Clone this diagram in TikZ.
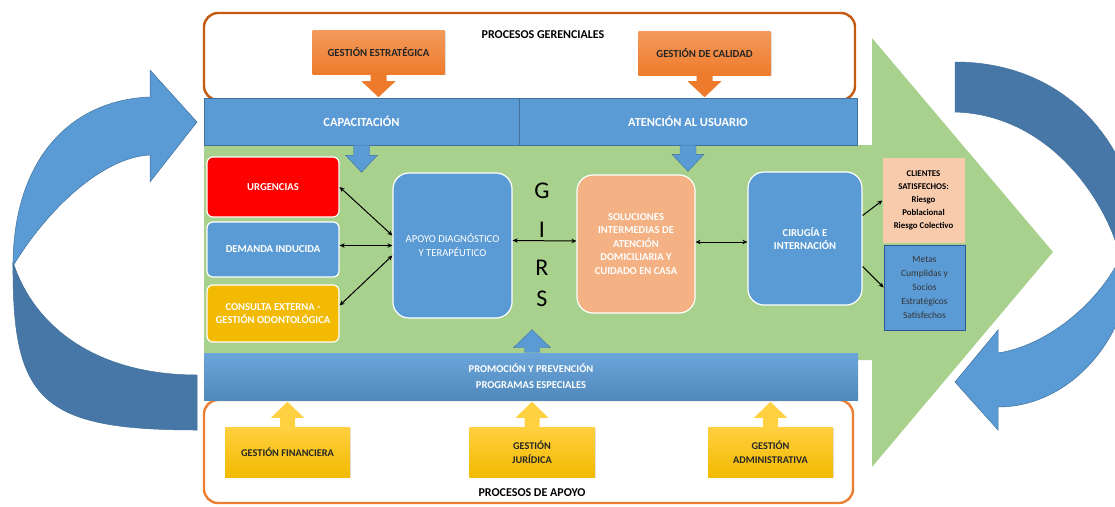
\documentclass[tikz,border=0pt]{standalone}
\usepackage{fontspec}
\setmainfont{Carlito}
\usetikzlibrary{arrows.meta,shadows}
\definecolor{verde}{HTML}{A9D18E}
\definecolor{azul}{HTML}{5B9BD5}
\definecolor{azulosc}{HTML}{4677A6}
\definecolor{azulbor}{HTML}{41719C}
\definecolor{nartop}{HTML}{F39A5C}
\definecolor{narbot}{HTML}{EE7B2C}
\definecolor{narbor}{HTML}{C55A11}
\definecolor{narclaro}{HTML}{ED7D31}
\definecolor{amatop}{HTML}{FFD040}
\definecolor{amabot}{HTML}{F2BA00}
\definecolor{salmon}{HTML}{F4B183}
\definecolor{piel}{HTML}{F8CBAD}
\definecolor{metasbor}{HTML}{2F5597}

\begin{document}
\begin{tikzpicture}[x=1pt,y=-1pt,
		proceso/.style={draw, line width=2.4pt, rounded corners=14, fill=white},
		barra/.style={fill=azul, draw=azulbor, line width=0.6pt, text=white, font=\fontsize{12.4}{14}\selectfont\bfseries, align=center},
		gestion/.style={top color=nartop, bottom color=narbot, minimum width=132, minimum height=44, font=\fontsize{10.8}{12}\selectfont\bfseries, text=black!85, drop shadow={opacity=0.25, shadow xshift=1pt, shadow yshift=-1pt}},
		apoyo/.style={top color=amatop, bottom color=amabot, minimum width=125, minimum height=50, align=center, font=\fontsize{10.3}{14}\selectfont\bfseries, text=black!85, drop shadow={opacity=0.25, shadow xshift=1pt, shadow yshift=-1pt}},
		servicio/.style={draw=white, line width=1.2pt, rounded corners=6, minimum width=132, text=white, align=center, font=\fontsize{10.6}{12.5}\selectfont\bfseries},
		unidad/.style={draw=white, line width=1.2pt, rounded corners=16, text=white, align=center, font=\fontsize{10.6}{13.5}\selectfont\bfseries},
		titulo/.style={font=\fontsize{12}{14}\selectfont\bfseries},
		letra/.style={font=\fontsize{24}{24}\selectfont},
		doble/.style={{Stealth[length=5pt,width=4.5pt]}-{Stealth[length=5pt,width=4.5pt]}, line width=1pt},
		simple/.style={-{Stealth[length=5pt,width=4.5pt]}, line width=1pt}]
	\useasboundingbox (0,0) rectangle (1115,506);
	\clip (0,0) rectangle (1115,506);
	\filldraw[fill=azulosc, draw=azulbor, line width=0.5pt] (13,262) .. controls (12,400) and (40,430) .. (197,430) -- (197,375) .. controls (100,375) and (35,330) .. (13,262) -- cycle;
	\filldraw[fill=azul, draw=azulbor, line width=0.5pt] (150,97) -- (150,70) -- (197,122) -- (150,182) -- (150,155) .. controls (105,157) and (50,205) .. (13,266) .. controls (13,160) and (70,100) .. (150,97) -- cycle;
	\filldraw[fill=azulosc, draw=azulbor, line width=0.5pt] (955,62) .. controls (1070,62) and (1140,150) .. (1142,255) -- (1120,258) .. controls (1112,215) and (1058,115) .. (955,112) -- cycle;
	\filldraw[fill=azul, draw=azulbor, line width=0.5pt] (1132,255) .. controls (1132,335) and (1072,407) .. (998,407) -- (998,430) -- (955,382) -- (998,330) -- (998,353) .. controls (1050,345) and (1100,300) .. (1120,258) -- cycle;
	\fill[verde] (204,145) -- (872,145) -- (872,38) -- (1053,252) -- (872,467) -- (872,360) -- (204,360) -- cycle;

	\node[proceso, draw=narbor, minimum width=651, minimum height=87] (ger) at (529.5,56.5) {};
	\node[titulo] (tger) at (543,35) {PROCESOS GERENCIALES};
	\node[gestion] (est) at (378.5,52) {GESTIÓN ESTRATÉGICA};
	\node[gestion] (cal) at (704.5,53) {GESTIÓN DE CALIDAD};
	\node[barra, minimum width=315, minimum height=47] (cap) at (361.5,121.5) {CAPACITACIÓN};
	\node[barra, minimum width=338, minimum height=47] (aten) at (688,121.5) {ATENCIÓN AL USUARIO};
	\fill[narbot] (est.south) ++(-8,0) -- ++(0,7) -- ++(-9,0) -- ++(17,16) -- ++(17,-16) -- ++(-9,0) -- ++(0,-7) -- cycle;
	\fill[narbot] (cal.south) ++(-8,0) -- ++(0,6) -- ++(-9,0) -- ++(17,16) -- ++(17,-16) -- ++(-9,0) -- ++(0,-6) -- cycle;
	\filldraw[fill=azul, draw=azulbor, line width=0.4pt] (cap.south) ++(-8,0) -- ++(0,10) -- ++(-8,0) -- ++(16,17) -- ++(16,-17) -- ++(-8,0) -- ++(0,-10);
	\filldraw[fill=azul, draw=azulbor, line width=0.4pt] (aten.south) ++(-8,0) -- ++(0,9) -- ++(-8,0) -- ++(16,17) -- ++(16,-17) -- ++(-8,0) -- ++(0,-9);

	\node[proceso, draw=narclaro, minimum width=649, minimum height=103] (apo) at (528.5,451.5) {};
	\node[barra, top color=azul!90!white, bottom color=azul!88!black, draw=none, minimum width=654, minimum height=47, font=\fontsize{10.5}{16}\selectfont\bfseries] (prom) at (531,376.5) {PROMOCIÓN Y PREVENCIÓN\\PROGRAMAS ESPECIALES};
	\node[titulo] (tapo) at (532,493) {PROCESOS DE APOYO};
	\node[apoyo] (fin) at (287.5,452) {GESTIÓN FINANCIERA};
	\node[apoyo] (jur) at (532,452) {GESTIÓN\\JURÍDICA};
	\node[apoyo] (adm) at (770.5,452) {GESTIÓN\\ADMINISTRATIVA};
	\fill[amatop] (fin.north) ++(-7.5,0) -- ++(0,-9) -- ++(-9,0) -- ++(16.5,-16) -- ++(16.5,16) -- ++(-9,0) -- ++(0,9) -- cycle;
	\fill[amatop] (jur.north) ++(-7.5,0) -- ++(0,-9) -- ++(-9,0) -- ++(16.5,-16) -- ++(16.5,16) -- ++(-9,0) -- ++(0,9) -- cycle;
	\fill[amatop] (adm.north) ++(-7.5,0) -- ++(0,-9) -- ++(-9,0) -- ++(16.5,-16) -- ++(16.5,16) -- ++(-9,0) -- ++(0,9) -- cycle;
	\filldraw[fill=azul, draw=azulbor, line width=0.4pt] ([xshift=1pt]prom.north) ++(-7.5,0) -- ++(0,-5) -- ++(-11,0) -- ++(18.5,-18) -- ++(18.5,18) -- ++(-11,0) -- ++(0,5);

	\node[servicio, fill=red, minimum height=60] (urg) at (273,187) {URGENCIAS};
	\node[servicio, fill=azul, minimum height=55] (dem) at (273,249.5) {DEMANDA INDUCIDA};
	\node[servicio, fill=amabot, minimum height=57] (cons) at (273,313.5) {CONSULTA EXTERNA -\\GESTIÓN ODONTOLÓGICA};
	\node[unidad, fill=azul, minimum width=119, minimum height=145, font=\fontsize{10.6}{14}\selectfont] (diag) at (452.5,245.5) {APOYO DIAGNÓSTICO\\Y TERAPÉUTICO};
	\node[unidad, fill=salmon, minimum width=118, minimum height=138] (sol) at (636,244) {SOLUCIONES\\INTERMEDIAS DE\\ATENCIÓN\\DOMICILIARIA Y\\CUIDADO EN CASA};
	\node[unidad, fill=azul, minimum width=114, minimum height=133] (cir) at (805,238.5) {CIRUGÍA E\\INTERNACIÓN};
	\node[fill=piel, minimum width=82, minimum height=85, align=center, font=\fontsize{8.8}{13}\selectfont\bfseries] (cli) at (923.5,200.5) {CLIENTES\\SATISFECHOS:\\Riesgo\\Poblacional\\Riesgo Colectivo};
	\node[fill=azul, draw=metasbor, line width=0.8pt, minimum width=81, minimum height=85, align=center, text=black!80, font=\fontsize{9.5}{14}\selectfont] (met) at (924.5,287.5) {Metas\\Cumplidas y\\Socios\\Estratégicos\\Satisfechos};

	\node[letra] (g) at (542,191) {G};
	\draw[doble] ([yshift=5pt]diag.east) -- ([yshift=3pt]sol.west);
	\node[letra] (i) at (542,230) {I};
	\node[letra] (r) at (542,268) {R};
	\node[letra] (s) at (542,299) {S};

	\draw[doble] ([yshift=10pt]diag.west) -- (urg.east);
	\draw[doble] (diag.west) -- (diag.west -| dem.east);
	\draw[doble] ([yshift=-10pt]diag.west) -- ([yshift=8pt]cons.east);
	\draw[doble] ([yshift=2pt]sol.east) -- ([yshift=2pt]sol.east -| cir.west);
	\draw[simple] ([yshift=23pt]cir.east) -- (cli.west);
	\draw[simple] ([yshift=-28pt]cir.east) -- (met.west);
\end{tikzpicture}
\end{document}
